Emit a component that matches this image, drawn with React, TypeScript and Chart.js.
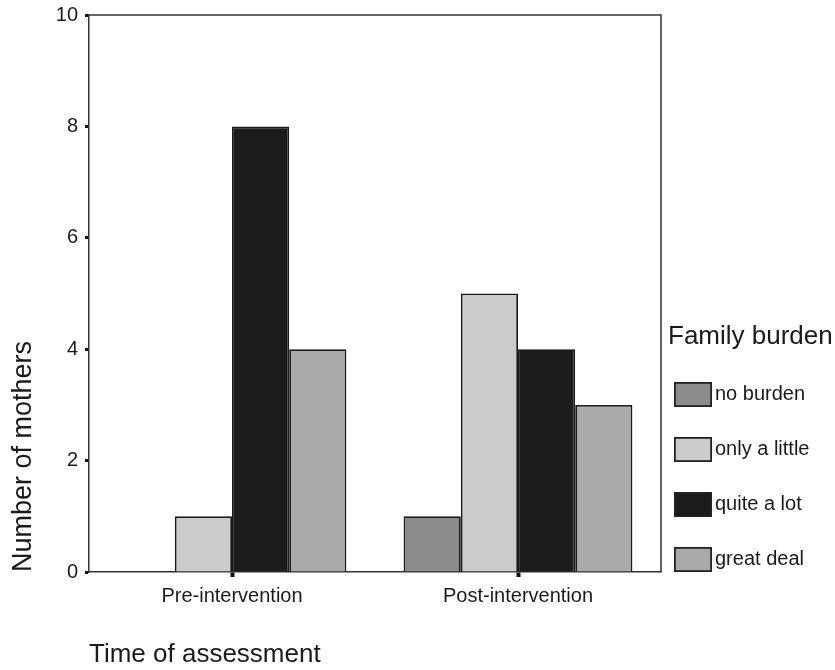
import React, { useEffect, useRef } from 'react';
import { Chart, registerables } from 'chart.js';

Chart.register(...registerables);

const categories = ['Pre-intervention', 'Post-intervention'];
const seriesLabels = ['no burden', 'only a little', 'quite a lot', 'great deal'];
const noBurden = [0, 1];
const onlyALittle = [1, 5];
const quiteALot = [8, 4];
const greatDeal = [4, 3];
const yTicks = [0, 2, 4, 6, 8, 10];
const seriesColors = ['#8b8b8b', '#cbcbcb', '#1c1c1c', '#aaaaaa'];
const legendTitle = 'Family burden';
const yTitle = 'Number of mothers';
const xTitle = 'Time of assessment';

const FONT = "'Liberation Sans', Arial, Helvetica, sans-serif";
const TEXT = '#1a1a1a';

const framePlugin = {
  id: 'frame',
  afterDatasetsDraw(chart: any) {
    const { ctx, chartArea: a } = chart;
    ctx.save();
    ctx.strokeStyle = '#333';
    ctx.lineWidth = 1.5;
    ctx.beginPath();
    ctx.moveTo(a.left, a.top);
    ctx.lineTo(a.right, a.top);
    ctx.lineTo(a.right, a.bottom);
    ctx.stroke();
    ctx.restore();
  },
};

const legendPlugin = {
  id: 'sideLegend',
  afterDraw(chart: any) {
    const { ctx, chartArea: a } = chart;
    ctx.save();
    ctx.textAlign = 'left';
    ctx.textBaseline = 'middle';
    ctx.fillStyle = TEXT;
    ctx.font = `26px ${FONT}`;
    ctx.fillText(legendTitle, a.right + 7, a.bottom - 235);
    chart.data.datasets.forEach((ds: any, i: number) => {
      const left = a.right + 13;
      const top = a.bottom - 190 + i * 55;
      ctx.fillStyle = ds.backgroundColor;
      ctx.fillRect(left, top, 38, 25);
      ctx.strokeStyle = '#222';
      ctx.lineWidth = 1.8;
      ctx.strokeRect(left + 0.9, top + 0.9, 36.2, 23.2);
      ctx.fillStyle = TEXT;
      ctx.font = `20px ${FONT}`;
      ctx.fillText(ds.label, left + 41, top + 12.5);
    });
    ctx.restore();
  },
};

export default function App() {
  const canvasRef = useRef<HTMLCanvasElement | null>(null);

  useEffect(() => {
    document.body.style.margin = '0';
    const canvas = canvasRef.current;
    if (!canvas) return;
    const values = [noBurden, onlyALittle, quiteALot, greatDeal];
    const chart = new Chart(canvas, {
      type: 'bar',
      data: {
        labels: categories,
        datasets: seriesLabels.map((label, i) => ({
          label,
          data: values[i],
          backgroundColor: seriesColors[i],
          borderColor: '#1a1a1a',
          borderWidth: 1.8,
          categoryPercentage: 0.8,
          barPercentage: 1.0,
        })),
      },
      options: {
        responsive: false,
        animation: false,
        layout: { padding: { top: 15, right: 174, left: 0, bottom: 0 } },
        plugins: {
          legend: { display: false },
          tooltip: { enabled: false },
        },
        scales: {
          x: {
            grid: {
              offset: false,
              drawOnChartArea: false,
              drawTicks: true,
              tickLength: 5,
              tickWidth: 4,
              tickColor: '#111',
            },
            border: { display: true, color: '#333', width: 1.5 },
            ticks: {
              font: { family: FONT, size: 20 },
              color: TEXT,
              padding: 7,
              maxRotation: 0,
            },
            title: {
              display: true,
              text: xTitle,
              align: 'start',
              color: TEXT,
              font: { family: FONT, size: 26 },
              padding: { top: 0, bottom: 0 },
            },
            afterFit: (s: any) => {
              s.height = 98;
              s.paddingLeft = 0;
              s.paddingRight = 0;
            },
          },
          y: {
            min: 0,
            max: 10,
            afterBuildTicks: (s: any) => {
              s.ticks = yTicks.map((v) => ({ value: v }));
            },
            grid: {
              drawOnChartArea: false,
              drawTicks: true,
              tickLength: 4,
              tickWidth: 3,
              tickColor: '#111',
            },
            border: { display: true, color: '#333', width: 1.5 },
            ticks: {
              font: { family: FONT, size: 20 },
              color: TEXT,
              padding: 7,
            },
            title: {
              display: true,
              text: yTitle,
              align: 'start',
              color: TEXT,
              font: { family: FONT, size: 27 },
              padding: { top: 7, bottom: 0 },
            },
            afterFit: (s: any) => {
              s.width = 89;
              s.paddingTop = 0;
              s.paddingBottom = 0;
            },
          },
        },
      },
      plugins: [framePlugin, legendPlugin],
    });
    return () => chart.destroy();
  }, []);

  return (
    <div style={{ width: 835, height: 670 }}>
      <canvas ref={canvasRef} width={835} height={670} style={{ display: 'block' }} />
    </div>
  );
}
